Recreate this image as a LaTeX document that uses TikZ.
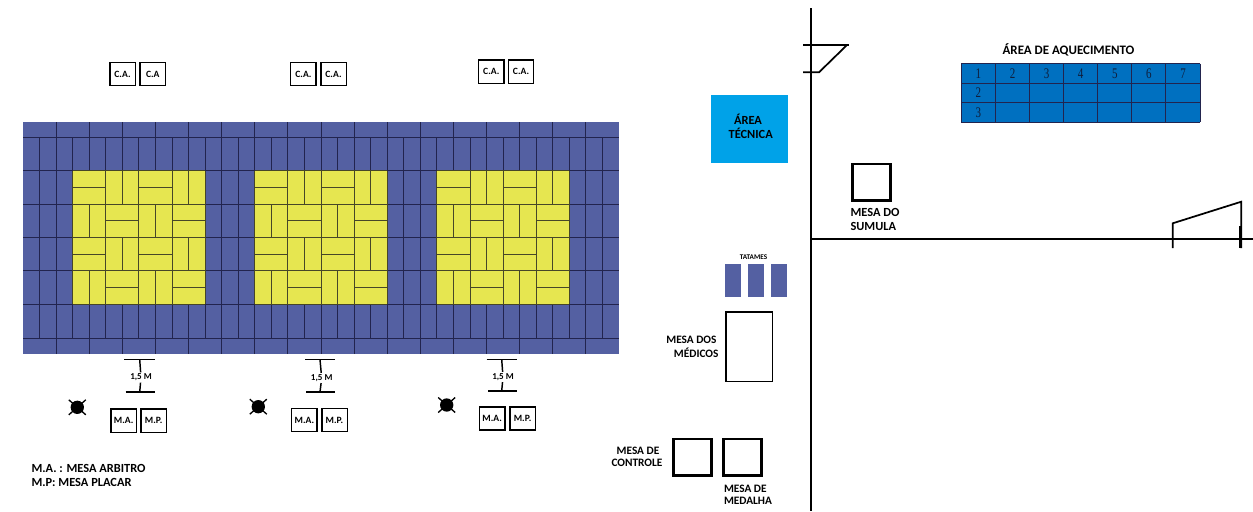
\documentclass[tikz,border=0pt]{standalone}
\usepackage{fontspec}
\setmainfont{Carlito}
\newfontfamily\numfont[FakeStretch=0.75]{Liberation Serif}
\usepackage{tikz}
\tikzset{every picture/.style={line width=0.75pt}}
\tikzset{
  matfill/.style={fill={rgb, 255:red, 84; green, 96; blue, 162 }},
  matyellow/.style={fill={rgb, 255:red, 230; green, 230; blue, 80 }},
  matline/.style={draw={rgb, 255:red, 34; green, 36; blue, 78 },line width=0.65pt},
  yelline/.style={draw={rgb, 255:red, 70; green, 70; blue, 40 },line width=0.65pt},
  arbbox/.style={draw,line width=1.1pt,fill=white,minimum width=19.1pt,minimum height=17.3pt,inner sep=0pt,font=\bfseries\fontsize{7.2}{8}\selectfont},
  mesabox/.style={draw,line width=2pt,inner sep=0pt,minimum width=28.5pt,minimum height=27.5pt},
  lbl/.style={inner sep=0.75pt,font=\bfseries\fontsize{9.3}{11}\selectfont,align=center},
  lblsmall/.style={inner sep=0.75pt,font=\bfseries\fontsize{8.5}{10}\selectfont,align=center},
  dimlbl/.style={inner sep=0.75pt,fill=white,font=\bfseries\fontsize{6.8}{7.5}\selectfont},
  dimbar/.style={line width=1.1pt},
  wall/.style={line width=1.3pt},
  ball/.style={circle,fill=black,inner sep=0pt,minimum size=10pt},
  tatami/.style={fill={rgb, 255:red, 84; green, 96; blue, 162 },inner sep=0pt,minimum width=12pt,minimum height=24.75pt},
  aqcell/.style={inner sep=0pt,font=\numfont\fontsize{11}{11}\selectfont,color={rgb, 255:red, 15; green, 30; blue, 60 }},
}
\begin{document}
\begin{tikzpicture}[x=0.75pt,y=0.75pt,yscale=-1,xscale=1]
\useasboundingbox (0,0) rectangle (1253,511);
% mats
\fill [matfill] (23,122) rectangle (619,354);
\foreach \u in {1,...,35} \draw [matline] ({23+16.555*\u},137) -- ({23+16.555*\u},338);
\foreach \u in {2,4,...,34} {
  \draw [matline] ({23+16.555*\u},122) -- ({23+16.555*\u},137);
  \draw [matline] ({23+16.555*\u},338) -- ({23+16.555*\u},354);
}
\foreach \r in {137,170.7,204,237.4,270.7,304,338} \draw [matline] (23,\r) -- (619,\r);
\foreach \m in {3,14,25} {
  \fill [matyellow] ({23+16.555*\m},170.7) rectangle ({23+16.555*(\m+8)},304);
  \foreach \i in {0,...,4} \draw [yelline] ({23+16.555*(\m+2*\i)},170.7) -- ({23+16.555*(\m+2*\i)},304);
  \foreach \j in {0,...,4} \draw [yelline] ({23+16.555*\m},{170.7+33.33*\j}) -- ({23+16.555*(\m+8)},{170.7+33.33*\j});
  \foreach \i/\j in {0/0,2/0,1/1,3/1,0/2,2/2,1/3,3/3}
    \draw [yelline] ({23+16.555*(\m+2*\i)},{170.7+33.33*(\j+0.5)}) -- ({23+16.555*(\m+2*\i+2)},{170.7+33.33*(\j+0.5)});
  \foreach \i/\j in {1/0,3/0,0/1,2/1,1/2,3/2,0/3,2/3}
    \draw [yelline] ({23+16.555*(\m+2*\i+1)},{170.7+33.33*\j}) -- ({23+16.555*(\m+2*\i+1)},{170.7+33.33*(\j+1)});
}
% tables above the mats
\node (caA) [arbbox] at (122.5,74) {C.A.};
\node (caB) [arbbox] at (152.8,74) {C.A};
\node (caC) [arbbox] at (303.4,74) {C.A.};
\node (caD) [arbbox] at (333.5,74) {C.A.};
\node (caE) [arbbox] at (491.3,71.7) {C.A.};
\node (caF) [arbbox] at (521,71.7) {C.A.};
% tables below the mats
\node (maA) [arbbox] at (123.7,420.7) {M.A.};
\node (mpA) [arbbox] at (153.7,420.7) {M.P.};
\node (maB) [arbbox] at (304.4,420) {M.A.};
\node (mpB) [arbbox] at (334.5,420) {M.P.};
\node (maC) [arbbox] at (492.2,418.4) {M.A.};
\node (mpC) [arbbox] at (522.6,418.4) {M.P.};
% 1,5 M
\coordinate (barAl) at (124,359.5);
\coordinate (barAr) at (154.7,359.5);
\coordinate (barAt) at (139.7,359.5);
\coordinate (barBl) at (125.5,392);
\coordinate (barBr) at (154.7,392);
\coordinate (barBb) at (139.7,392);
\node (dimA) [dimlbl] at (141,377.5) {1,5 M};
\draw [dimbar] (barAl) -- (barAr);
\draw [dimbar] (barBl) -- (barBr);
\draw [dimbar] (barAt) -- (dimA);
\draw [dimbar] (dimA) -- (barBb);
\coordinate (barCl) at (305,359.7);
\coordinate (barCr) at (335,359.7);
\coordinate (barCt) at (320,359.7);
\coordinate (barDl) at (306,392);
\coordinate (barDr) at (335,392);
\coordinate (barDb) at (320,392);
\node (dimB) [dimlbl] at (321.7,378) {1,5 M};
\draw [dimbar] (barCl) -- (barCr);
\draw [dimbar] (barDl) -- (barDr);
\draw [dimbar] (barCt) -- (dimB);
\draw [dimbar] (dimB) -- (barDb);
\coordinate (barEl) at (486.7,359.3);
\coordinate (barEr) at (517,359.3);
\coordinate (barEt) at (501.7,359.3);
\coordinate (barFl) at (488,391);
\coordinate (barFr) at (517,391);
\coordinate (barFb) at (501.7,391);
\node (dimC) [dimlbl] at (503,377) {1,5 M};
\draw [dimbar] (barEl) -- (barEr);
\draw [dimbar] (barFl) -- (barFr);
\draw [dimbar] (barEt) -- (dimC);
\draw [dimbar] (dimC) -- (barFb);
% balls
\foreach \n/\bx/\by in {ballA/77.3/407.3,ballB/258.3/406.7,ballC/446.7/405} {
  \node (\n) [ball] at (\bx,\by) {};
  \draw [line width=1pt] (\bx-8.5,\by-7.5) -- (\bx+8.5,\by+7.5);
  \draw [line width=1pt] (\bx+8.5,\by-7.5) -- (\bx-8.5,\by+7.5);
}
% legend
\node (legA) [lbl,anchor=west] at (30,468) {M.A. : MESA ARBITRO};
\node (legB) [lbl,anchor=west] at (30,482) {M.P: MESA PLACAR};
% middle column
\node (tecnica) [fill={rgb, 255:red, 0; green, 162; blue, 232 },inner sep=0pt,minimum width=57.75pt,minimum height=51.4pt,anchor=north west] at (710.3,94) {};
\node (tecA) [lbl] at (748,119) {ÁREA};
\node (tecB) [lbl] at (750.7,133.5) {TÉCNICA};
\node (tatLbl) [inner sep=0.75pt,font=\bfseries\fontsize{5.4}{6}\selectfont] at (753.5,257) {TATAMES};
\node (tatA) [tatami] at (733,280.8) {};
\node (tatB) [tatami] at (755.7,280.8) {};
\node (tatC) [tatami] at (779.2,280.8) {};
\node (medicos) [draw,line width=1.1pt,inner sep=0pt,minimum width=35pt,minimum height=52.3pt] at (749.3,346.8) {};
\node (medA) [lblsmall,anchor=east] at (718,340) {MESA DOS};
\node (medB) [lblsmall,anchor=east] at (720,353) {MÉDICOS};
\node (controle) [mesabox] at (692.8,457.2) {};
\node (medalha) [mesabox] at (742.3,457.2) {};
\node (conA) [lblsmall] at (638,451) {MESA DE};
\node (conB) [lblsmall] at (637,463.3) {CONTROLE};
\node (medlA) [lblsmall,anchor=west] at (722.5,488.7) {MESA DE};
\node (medlB) [lblsmall,anchor=west] at (722.5,501) {MEDALHA};
% lines of the hall
\coordinate (hallT) at (811,8);
\coordinate (hallB) at (811,511);
\coordinate (hallL) at (811,239);
\coordinate (hallR) at (1253,239);
\draw [wall] (hallT) -- (hallB);
\draw [wall] (hallL) -- (hallR);
\draw [wall] (803,45) -- (849,45);
\draw [wall] (803,72.3) -- (819,72.3) -- (847,45);
\draw [wall] (1172.7,248) -- (1172.7,223.3) -- (1241.3,201.7) -- (1241.3,248);
\draw [line width=2pt] (1240.3,226) -- (1240.3,248);
% sumula
\node (sumula) [mesabox] at (871.8,182.3) {};
\node (sumA) [lbl,anchor=west] at (849,212) {MESA DO};
\node (sumB) [lbl,anchor=west] at (849,226) {SUMULA};
% warm-up area
\node (aqTitle) [lbl,font=\bfseries\fontsize{9.7}{11}\selectfont] at (1068.5,50.3) {ÁREA DE AQUECIMENTO};
\fill [fill={rgb, 255:red, 0; green, 112; blue, 192 }] (961.3,63.7) rectangle (1200,122);
\foreach \c in {0,...,7} \draw [matline] ({961.3+34.1*\c},63.7) -- ({961.3+34.1*\c},122);
\foreach \r in {63.7,83.3,102.7,122} \draw [matline] (961.3,\r) -- (1200,\r);
\foreach \c in {1,...,7} \node (aqN\c) [aqcell] at ({944.3+34.1*\c},73.5) {\c};
\node (aqRowB) [aqcell] at (978.3,93) {2};
\node (aqRowC) [aqcell] at (978.3,112.3) {3};
\end{tikzpicture}
\end{document}
